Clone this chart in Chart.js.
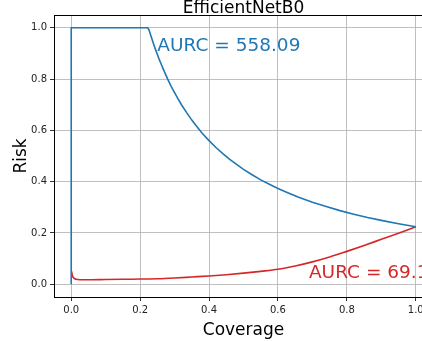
<!DOCTYPE html>
<html>
<head>
<meta charset="utf-8">
<script src="https://cdn.jsdelivr.net/npm/chart.js@4/dist/chart.umd.min.js"></script>
<style>
  html, body { margin: 0; padding: 0; background: #fff; overflow: hidden; }
  #wrap { position: absolute; left: 0; top: 0; width: 434px; height: 341px; }
</style>
</head>
<body>
<div id="wrap"><canvas id="riskChart" width="434" height="341"></canvas></div>
<script>
// risk-coverage curves, values
const blueCoverage = [0, 0, 0.222, 0.226, 0.23, 0.235, 0.24, 0.245, 0.25, 0.255, 0.26, 0.27, 0.28, 0.29, 0.3, 0.31, 0.32, 0.335, 0.35, 0.365, 0.38, 0.4, 0.42, 0.44, 0.46, 0.48, 0.5, 0.525, 0.55, 0.575, 0.6, 0.63, 0.66, 0.7, 0.74, 0.78, 0.82, 0.86, 0.9, 0.95, 1.0];
const blueRisk     = [0, 1, 1, 0.991, 0.974, 0.953, 0.933, 0.914, 0.896, 0.878, 0.862, 0.83, 0.8, 0.772, 0.747, 0.723, 0.7, 0.669, 0.64, 0.614, 0.589, 0.56, 0.533, 0.509, 0.487, 0.467, 0.448, 0.427, 0.407, 0.39, 0.373, 0.356, 0.339, 0.32, 0.303, 0.287, 0.273, 0.26, 0.249, 0.236, 0.224];

const redCoverage = [0.001, 0.003, 0.006, 0.01, 0.02, 0.03, 0.05, 0.1, 0.15, 0.2, 0.25, 0.3, 0.35, 0.4, 0.45, 0.5, 0.55, 0.6, 0.65, 0.7, 0.75, 0.8, 0.85, 0.9, 0.95, 1.0];
const redRisk     = [0.05, 0.035, 0.026, 0.021, 0.018, 0.017, 0.017, 0.018, 0.019, 0.02, 0.021, 0.024, 0.028, 0.032, 0.037, 0.043, 0.05, 0.058, 0.071, 0.087, 0.106, 0.128, 0.151, 0.175, 0.199, 0.224];

const xTicks = [0, 0.2, 0.4, 0.6, 0.8, 1.0];
const yTicks = [0, 0.2, 0.4, 0.6, 0.8, 1.0];

const chartTitle = 'EfficientNetB0';
const blueLabel = 'AURC = 558.09';
const redLabel = 'AURC = 69.10';

const BLUE = '#1f77b4';
const RED = '#d62728';
const FONT = '"DejaVu Sans", sans-serif';

function toPoints(xs, ys) {
  return xs.map((x, i) => ({ x: x, y: ys[i] }));
}

// frame, title and text annotations like matplotlib
const extras = {
  id: 'extras',
  afterDraw(chart) {
    const ctx = chart.ctx;
    const a = chart.chartArea;
    const sx = chart.scales.x, sy = chart.scales.y;
    ctx.save();
    ctx.strokeStyle = '#000';
    ctx.lineWidth = 1;
    ctx.strokeRect(a.left + 0.5, a.top + 0.5, a.right - a.left, a.bottom - a.top);

    ctx.fillStyle = '#000';
    ctx.font = '17px ' + FONT;
    ctx.textAlign = 'center';
    ctx.textBaseline = 'alphabetic';
    ctx.fillText(chartTitle, (a.left + a.right) / 2, 13);

    ctx.font = '18.5px ' + FONT;
    ctx.textAlign = 'left';
    ctx.fillStyle = BLUE;
    ctx.fillText(blueLabel, sx.getPixelForValue(0.25), sy.getPixelForValue(0.908));
    ctx.fillStyle = RED;
    ctx.fillText(redLabel, sx.getPixelForValue(0.69), sy.getPixelForValue(0.025));
    ctx.restore();
  }
};

const ctx = document.getElementById('riskChart').getContext('2d');
new Chart(ctx, {
  type: 'scatter',
  data: {
    datasets: [
      {
        data: toPoints(blueCoverage, blueRisk),
        showLine: true,
        borderColor: BLUE,
        borderWidth: 1.6,
        pointRadius: 0,
        tension: 0
      },
      {
        data: toPoints(redCoverage, redRisk),
        showLine: true,
        borderColor: RED,
        borderWidth: 1.6,
        pointRadius: 0,
        cubicInterpolationMode: 'monotone'
      }
    ]
  },
  options: {
    responsive: false,
    animation: false,
    layout: { padding: { top: 15, right: 1, left: 0, bottom: 0 } },
    plugins: {
      legend: { display: false },
      tooltip: { enabled: false }
    },
    scales: {
      x: {
        type: 'linear',
        min: -0.05,
        max: 1.05,
        afterBuildTicks: s => { s.ticks = xTicks.map(v => ({ value: v })); },
        afterFit: s => { s.height = 44; },
        grid: { color: '#b0b0b0', lineWidth: 0.8, tickColor: '#000', tickLength: 4 },
        border: { color: '#000' },
        ticks: {
          color: '#222',
          font: { family: FONT, size: 10 },
          padding: 3,
          maxRotation: 0,
          callback: v => v.toFixed(1)
        },
        title: {
          display: true,
          text: 'Coverage',
          color: '#000',
          font: { family: FONT, size: 17 },
          padding: { top: 0, bottom: 0 }
        }
      },
      y: {
        type: 'linear',
        min: -0.05,
        max: 1.05,
        afterBuildTicks: s => { s.ticks = yTicks.map(v => ({ value: v })); },
        afterFit: s => { s.width = 54; },
        grid: { color: '#b0b0b0', lineWidth: 0.8, tickColor: '#000', tickLength: 4 },
        border: { color: '#000' },
        ticks: {
          color: '#222',
          font: { family: FONT, size: 10 },
          padding: 3,
          callback: v => v.toFixed(1)
        },
        title: {
          display: true,
          text: 'Risk',
          color: '#000',
          font: { family: FONT, size: 17 },
          padding: { top: 11, bottom: 0 }
        }
      }
    }
  },
  plugins: [extras]
});
</script>
</body>
</html>
